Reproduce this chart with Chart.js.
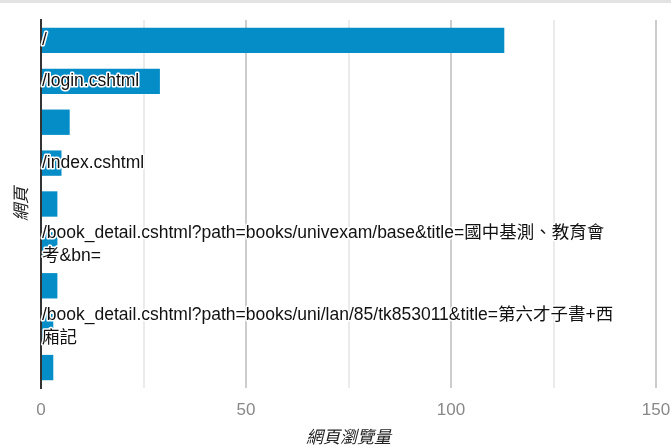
<!DOCTYPE html>
<html>
<head>
<meta charset="utf-8">
<script src="https://cdn.jsdelivr.net/npm/chart.js"></script>
<style>
  html, body { margin: 0; padding: 0; background: #fff; }
  #wrap { position: relative; width: 671px; height: 448px; }
  #topline { position: absolute; left: 0; top: 0; width: 671px; height: 3px; border-top: 3px solid #e3e3e3; box-sizing: border-box; }
  canvas { display: block; }
</style>
</head>
<body>
<div id="wrap">
  <canvas id="pageChart" width="671" height="448"></canvas>
  <div id="topline"></div>
</div>
<script>
  // 網頁 (labels not shown in the picture are left empty)
  let pages = [
    '/',
    '/login.cshtml',
    '',
    '/index.cshtml',
    '',
    '/book_detail.cshtml?path=books/univexam/base&title=國中基測、教育會考&bn=',
    '',
    '/book_detail.cshtml?path=books/uni/lan/85/tk853011&title=第六才子書+西廂記',
    ''
  ];
  let pageViews = [113, 29, 7, 5, 4, 4, 4, 3, 3];
  let xTicks = [0, 25, 50, 75, 100, 125, 150];

  const FONT = "'Liberation Sans', Arial, 'Noto Sans CJK TC', sans-serif";

  function wrapText(ctx, text, maxWidth) {
    let lines = [], line = '';
    for (let ch of text) {
      if (ctx.measureText(line + ch).width > maxWidth && line) {
        lines.push(line);
        line = ch;
      } else {
        line += ch;
      }
    }
    if (line) lines.push(line);
    return lines;
  }

  // category labels drawn inside the plot, over the bars
  const inLabels = {
    id: 'inLabels',
    afterDatasetsDraw(chart) {
      let ctx = chart.ctx, area = chart.chartArea, y = chart.scales.y;
      ctx.save();
      ctx.font = '17.5px ' + FONT;
      ctx.textBaseline = 'middle';
      ctx.textAlign = 'left';
      ctx.lineJoin = 'round';
      pages.forEach((label, i) => {
        if (!label) return;
        let lines = wrapText(ctx, label, area.width - 38);
        let cy = y.getPixelForValue(i);
        let lh = 23;
        let start = cy - (lines.length - 1) * lh / 2;
        lines.forEach((ln, k) => {
          let ty = start + k * lh;
          ctx.strokeStyle = '#fff';
          ctx.lineWidth = 3;
          ctx.strokeText(ln, area.left + 1, ty);
          ctx.fillStyle = '#111';
          ctx.fillText(ln, area.left + 1, ty);
        });
      });
      ctx.restore();
    }
  };

  let ctx = document.getElementById('pageChart').getContext('2d');
  let pageChart = new Chart(ctx, {
    type: 'bar',
    data: {
      labels: pages,
      datasets: [{
        label: '網頁瀏覽量',
        data: pageViews,
        backgroundColor: '#058dc7',
        borderWidth: 0,
        barPercentage: 0.62,
        categoryPercentage: 1
      }]
    },
    options: {
      indexAxis: 'y',
      responsive: false,
      animation: false,
      layout: { padding: { top: 20, right: 0, bottom: 0, left: 0 } },
      plugins: {
        legend: { display: false },
        tooltip: { enabled: false }
      },
      scales: {
        x: {
          min: 0,
          max: 150,
          afterBuildTicks: (scale) => { scale.ticks = xTicks.map(v => ({ value: v })); },
          afterFit: (scale) => {
            scale.paddingRight = 15;
            scale.paddingLeft = 0;
            scale.height = 60;
          },
          ticks: {
            color: '#888',
            font: { family: FONT, size: 17 },
            padding: 12,
            maxRotation: 0,
            callback: (v) => (v % 50 === 0 ? v : '')
          },
          grid: {
            drawTicks: false,
            color: (c) => (c.tick && c.tick.value % 50 === 0 ? '#cccccc' : '#ebebeb'),
            lineWidth: 2
          },
          border: { display: false },
          title: {
            display: true,
            text: '網頁瀏覽量',
            color: '#222',
            font: { family: FONT, size: 17, style: 'italic' },
            padding: { top: 0, bottom: 0 }
          }
        },
        y: {
          ticks: { display: false },
          grid: { display: false, drawTicks: false },
          border: { display: true, color: '#333', width: 2 },
          title: {
            display: true,
            text: '網頁',
            color: '#222',
            font: { family: FONT, size: 17, style: 'italic' },
            padding: { top: 12, bottom: 0 }
          },
          afterFit: (scale) => { scale.width = 41; }
        }
      }
    },
    plugins: [inLabels]
  });
</script>
</body>
</html>
